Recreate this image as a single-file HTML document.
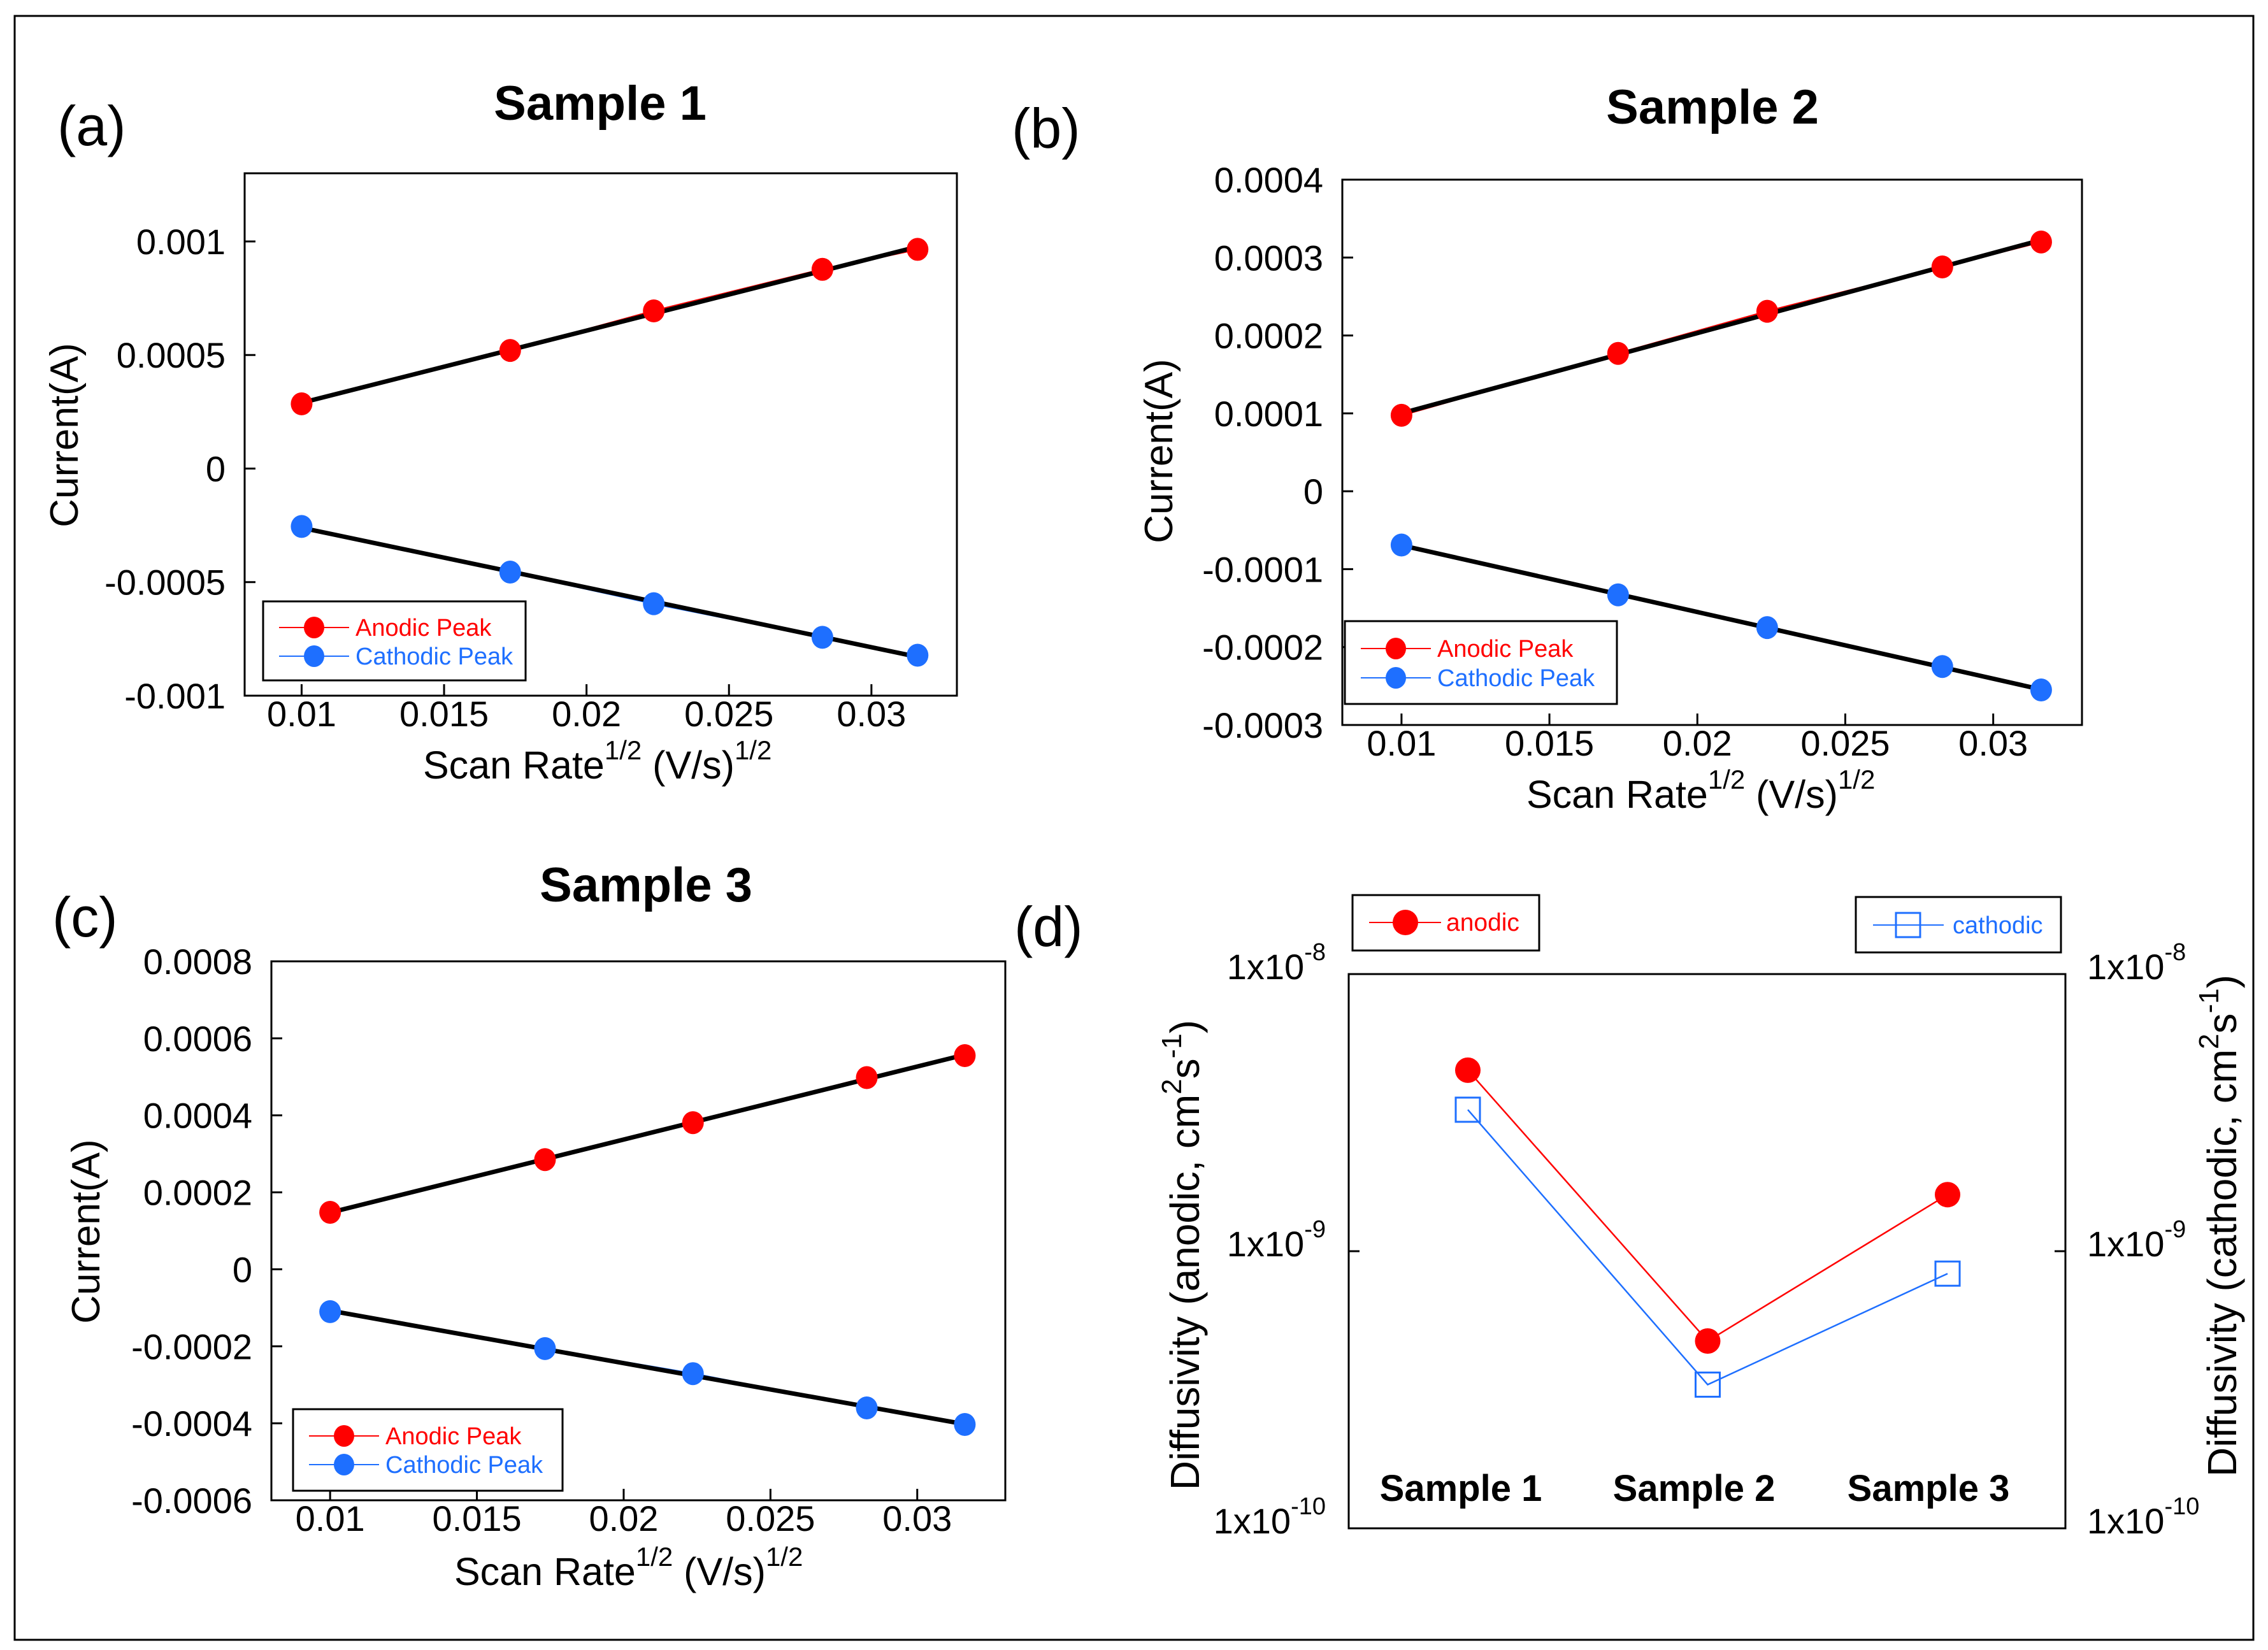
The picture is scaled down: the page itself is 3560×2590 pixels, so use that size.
<!DOCTYPE html>
<html><head><meta charset="utf-8"><style>
html,body{margin:0;padding:0;background:#fff}
svg{display:block}
text{font-family:"Liberation Sans",Arial,sans-serif}
</style></head><body>
<svg id="fig" xmlns="http://www.w3.org/2000/svg" width="3560" height="2590" viewBox="0 0 3560 2590">
<rect x="23" y="25" width="3514" height="2549" fill="#fff" stroke="#000" stroke-width="3"/>
</svg>
<script>
// ---- data ----
const scanX = [0.01, 0.01732, 0.02236, 0.02828, 0.03162];
const anodicA = [0.000285, 0.00052, 0.000694, 0.000877, 0.000965];
const cathodicA = [-0.000255, -0.000456, -0.000595, -0.000743, -0.000822];
const anodicB = [0.0000975, 0.000177, 0.000231, 0.000288, 0.000320];
const cathodicB = [-0.000069, -0.000133, -0.000175, -0.000225, -0.000255];
const anodicC = [0.000148, 0.000285, 0.000381, 0.000498, 0.000555];
const cathodicC = [-0.00011, -0.000206, -0.000271, -0.00036, -0.000403];
const xTicks = [0.01, 0.015, 0.02, 0.025, 0.03];
const xTickLabels = ["0.01", "0.015", "0.02", "0.025", "0.03"];
const yTicksA = [-0.001, -0.0005, 0, 0.0005, 0.001];
const yTickLabelsA = ["-0.001", "-0.0005", "0", "0.0005", "0.001"];
const yTicksB = [-0.0003, -0.0002, -0.0001, 0, 0.0001, 0.0002, 0.0003, 0.0004];
const yTickLabelsB = ["-0.0003", "-0.0002", "-0.0001", "0", "0.0001", "0.0002", "0.0003", "0.0004"];
const yTicksC = [-0.0006, -0.0004, -0.0002, 0, 0.0002, 0.0004, 0.0006, 0.0008];
const yTickLabelsC = ["-0.0006", "-0.0004", "-0.0002", "0", "0.0002", "0.0004", "0.0006", "0.0008"];
const sampleCats = ["Sample 1", "Sample 2", "Sample 3"];
const diffAnodic = [4.5e-9, 4.74e-10, 1.6e-9];
const diffCathodic = [3.24e-9, 3.3e-10, 8.3e-10];
const logTickExp = [-8, -9, -10];

const NS = "http://www.w3.org/2000/svg";
const svg = document.getElementById("fig");
function mk(tag, attrs, parent) {
  const e = document.createElementNS(NS, tag);
  for (const k in attrs) e.setAttribute(k, attrs[k]);
  (parent || svg).appendChild(e);
  return e;
}
function txt(s, x, y, size, attrs, parent) {
  const t = mk("text", Object.assign({x: x, y: y, "font-size": size}, attrs || {}), parent);
  t.textContent = s;
  return t;
}

function linePanel(cfg) {
  const g = mk("g", {});
  
  
  const L = cfg.L, R = cfg.R, T = cfg.T, B = cfg.B;
  const sx = v => L + (v - cfg.x0) / (cfg.x1 - cfg.x0) * (R - L);
  const sy = v => B - (v - cfg.y0) / (cfg.y1 - cfg.y0) * (B - T);
  const frame = mk("rect", {x: L, y: T, width: R - L, height: B - T, fill: "none", stroke: "#000", "stroke-width": 3}, g);
  
  
  cfg.yTicks.forEach((v, i) => {
    const y = sy(v);
    const tk = mk("line", {x1: L, x2: L + 17, y1: y, y2: y, stroke: "#000", "stroke-width": 3}, g);
    
    
    const lb = txt(cfg.yTickLabels[i], L - 30, y + 20, 56, {"text-anchor": "end"}, g);
    
    
  });
  xTicks.forEach((v, i) => {
    const x = sx(v);
    const tk = mk("line", {x1: x, x2: x, y1: B, y2: B - 18, stroke: "#000", "stroke-width": 3}, g);
    
    
    const lb = txt(xTickLabels[i], x, B + 48, 56, {"text-anchor": "middle"}, g);
    
    
  });
  [[cfg.an, "#ff0000", "anodic"], [cfg.ca, "#1e6fff", "cathodic"]].forEach(([ys, col, nm]) => {
    const pts = scanX.map((x, i) => sx(x) + "," + sy(ys[i])).join(" ");
    const pl = mk("polyline", {points: pts, fill: "none", stroke: col, "stroke-width": 3}, g);
    
    
    const n = scanX.length;
    const mx = scanX.reduce((a, b) => a + b) / n, my = ys.reduce((a, b) => a + b) / n;
    let num = 0, den = 0;
    scanX.forEach((x, i) => { num += (x - mx) * (ys[i] - my); den += (x - mx) * (x - mx); });
    const m = num / den, c = my - m * mx;
    const xa = scanX[0], xb = scanX[n - 1];
    const fit = mk("line", {x1: sx(xa), y1: sy(m * xa + c), x2: sx(xb), y2: sy(m * xb + c), stroke: "#000", "stroke-width": 7}, g);
    
    
    scanX.forEach((x, i) => {
      const p = mk("ellipse", {cx: sx(x), cy: sy(ys[i]), rx: 17, ry: 18, fill: col}, g);
      
      
    });
  });
  const lg = cfg.leg;
  const lgg = mk("g", {}, g);
  
  
  mk("rect", {x: lg.x, y: lg.y, width: lg.w, height: lg.h, fill: "#fff", stroke: "#000", "stroke-width": 3}, lgg);
  [["Anodic Peak", "#ff0000", lg.y1], ["Cathodic Peak", "#1e6fff", lg.y2]].forEach(([s, col, yy]) => {
    const e = mk("g", {}, lgg);
    
    
    mk("line", {x1: lg.x + 25, x2: lg.x + 135, y1: yy, y2: yy, stroke: col, "stroke-width": 2}, e);
    mk("ellipse", {cx: lg.x + 80, cy: yy, rx: 16, ry: 17, fill: col}, e);
    txt(s, lg.x + 145, yy + 13, 38, {fill: col}, e);
  });
  const ttl = txt(cfg.title, cfg.titleX, cfg.titleY, 76, {"font-weight": "bold", "text-anchor": "middle"}, g);
  
  
  const pl = txt(cfg.letter, cfg.letX, cfg.letY, 88, {}, g);
  
  
  const yl = txt("Current(A)", 0, 0, 62, {"text-anchor": "middle", transform: `translate(${cfg.ylX},${cfg.ylY}) rotate(-90)`}, g);
  
  
  const xl = mk("text", {x: cfg.xlX, y: cfg.xlY, "font-size": 61}, g);
  
  
  xl.innerHTML = 'Scan Rate<tspan font-size="42" dy="-30">1/2</tspan><tspan dy="30"> (V/s)</tspan><tspan font-size="42" dy="-30">1/2</tspan>';
}

linePanel({name: "panel-a", L: 384, R: 1502, T: 272, B: 1092, x0: 0.008, x1: 0.033, y0: -0.001, y1: 0.0013,
  yTicks: yTicksA, yTickLabels: yTickLabelsA, an: anodicA, ca: cathodicA,
  leg: {x: 413, y: 944, w: 412, h: 124, y1: 985, y2: 1030},
  title: "Sample 1", titleX: 942, titleY: 188, letter: "(a)", letX: 90, letY: 228,
  ylX: 122, ylY: 683, xlX: 664, xlY: 1222});
linePanel({name: "panel-b", L: 2107, R: 3268, T: 282, B: 1138, x0: 0.008, x1: 0.033, y0: -0.0003, y1: 0.0004,
  yTicks: yTicksB, yTickLabels: yTickLabelsB, an: anodicB, ca: cathodicB,
  leg: {x: 2111, y: 975, w: 427, h: 130, y1: 1018, y2: 1064},
  title: "Sample 2", titleX: 2688, titleY: 194, letter: "(b)", letX: 1588, letY: 232,
  ylX: 1840, ylY: 708, xlX: 2396, xlY: 1268});
linePanel({name: "panel-c", L: 426, R: 1578, T: 1509, B: 2355, x0: 0.008, x1: 0.033, y0: -0.0006, y1: 0.0008,
  yTicks: yTicksC, yTickLabels: yTickLabelsC, an: anodicC, ca: cathodicC,
  leg: {x: 460, y: 2212, w: 423, h: 128, y1: 2254, y2: 2299},
  title: "Sample 3", titleX: 1014, titleY: 1415, letter: "(c)", letX: 82, letY: 1470,
  ylX: 156, ylY: 1933, xlX: 713, xlY: 2488});

// ---- panel d ----
(function () {
  const g = mk("g", {});
  
  
  const L = 2117, R = 3242, T = 1529, B = 2399;
  const sy = v => T + (-8 - Math.log10(v)) / 2 * (B - T);
  const sx = i => 2304 + i * 376.5;
  const fr = mk("rect", {x: L, y: T, width: R - L, height: B - T, fill: "none", stroke: "#000", "stroke-width": 3}, g);
  
  
  logTickExp.forEach(e => {
    const y = sy(Math.pow(10, e));
    const t1 = mk("line", {x1: L, x2: L + 17, y1: y, y2: y, stroke: "#000", "stroke-width": 3}, g);
    
    
    const t2 = mk("line", {x1: R - 17, x2: R, y1: y, y2: y, stroke: "#000", "stroke-width": 3}, g);
    
    
    const ty = y + 8;
    const l1 = mk("text", {x: L - 36, y: ty, "font-size": 56, "text-anchor": "end"}, g);
    
    
    l1.innerHTML = '1x10<tspan font-size="38" dy="-30">' + e + '</tspan>';
    const l2 = mk("text", {x: R + 34, y: ty, "font-size": 56}, g);
    
    
    l2.innerHTML = '1x10<tspan font-size="38" dy="-30">' + e + '</tspan>';
  });
  const catLabelX = [2293, 2659, 3027];
  sampleCats.forEach((s, i) => {
    const t = txt(s, catLabelX[i], 2356, 58, {"font-weight": "bold", "text-anchor": "middle"}, g);
    
    
  });
  const pa = sampleCats.map((s, i) => sx(i) + "," + sy(diffAnodic[i])).join(" ");
  const la = mk("polyline", {points: pa, fill: "none", stroke: "#ff0000", "stroke-width": 2.5}, g);
  
  
  const pc = sampleCats.map((s, i) => sx(i) + "," + sy(diffCathodic[i])).join(" ");
  const lc = mk("polyline", {points: pc, fill: "none", stroke: "#1e6fff", "stroke-width": 2.5}, g);
  
  
  sampleCats.forEach((s, i) => {
    const c = mk("ellipse", {cx: sx(i), cy: sy(diffAnodic[i]), rx: 20, ry: 20, fill: "#ff0000"}, g);
    
    
    const q = mk("rect", {x: sx(i) - 19, y: sy(diffCathodic[i]) - 19, width: 38, height: 38, fill: "none", stroke: "#1e6fff", "stroke-width": 3}, g);
    
    
  });
  const lg1 = mk("g", {}, g);
  
  
  mk("rect", {x: 2123, y: 1405, width: 293, height: 87, fill: "#fff", stroke: "#000", "stroke-width": 3}, lg1);
  mk("line", {x1: 2149, x2: 2262, y1: 1448, y2: 1448, stroke: "#ff0000", "stroke-width": 2}, lg1);
  mk("ellipse", {cx: 2206, cy: 1448, rx: 20, ry: 20, fill: "#ff0000"}, lg1);
  txt("anodic", 2270, 1461, 39, {fill: "#ff0000"}, lg1);
  const lg2 = mk("g", {}, g);
  
  
  mk("rect", {x: 2913, y: 1408, width: 322, height: 87, fill: "#fff", stroke: "#000", "stroke-width": 3}, lg2);
  mk("line", {x1: 2940, x2: 3051, y1: 1452, y2: 1452, stroke: "#1e6fff", "stroke-width": 2}, lg2);
  mk("rect", {x: 2976, y: 1433, width: 38, height: 38, fill: "none", stroke: "#1e6fff", "stroke-width": 3}, lg2);
  txt("cathodic", 3065, 1465, 38, {fill: "#1e6fff"}, lg2);
  const yl = mk("text", {"font-size": 64, "text-anchor": "middle", transform: "translate(1882,1970) rotate(-90)"}, g);
  
  
  yl.innerHTML = 'Diffusivity (anodic, cm<tspan font-size="44" dy="-28">2</tspan><tspan dy="28">s</tspan><tspan font-size="44" dy="-28">-1</tspan><tspan dy="28">)</tspan>';
  const yr = mk("text", {"font-size": 64, "text-anchor": "middle", transform: "translate(3510,1924) rotate(-90)"}, g);
  
  
  yr.innerHTML = 'Diffusivity (cathodic, cm<tspan font-size="44" dy="-28">2</tspan><tspan dy="28">s</tspan><tspan font-size="44" dy="-28">-1</tspan><tspan dy="28">)</tspan>';
})();
const dl = txt("(d)", 1592, 1485, 88, {});


</script>
</body></html>
